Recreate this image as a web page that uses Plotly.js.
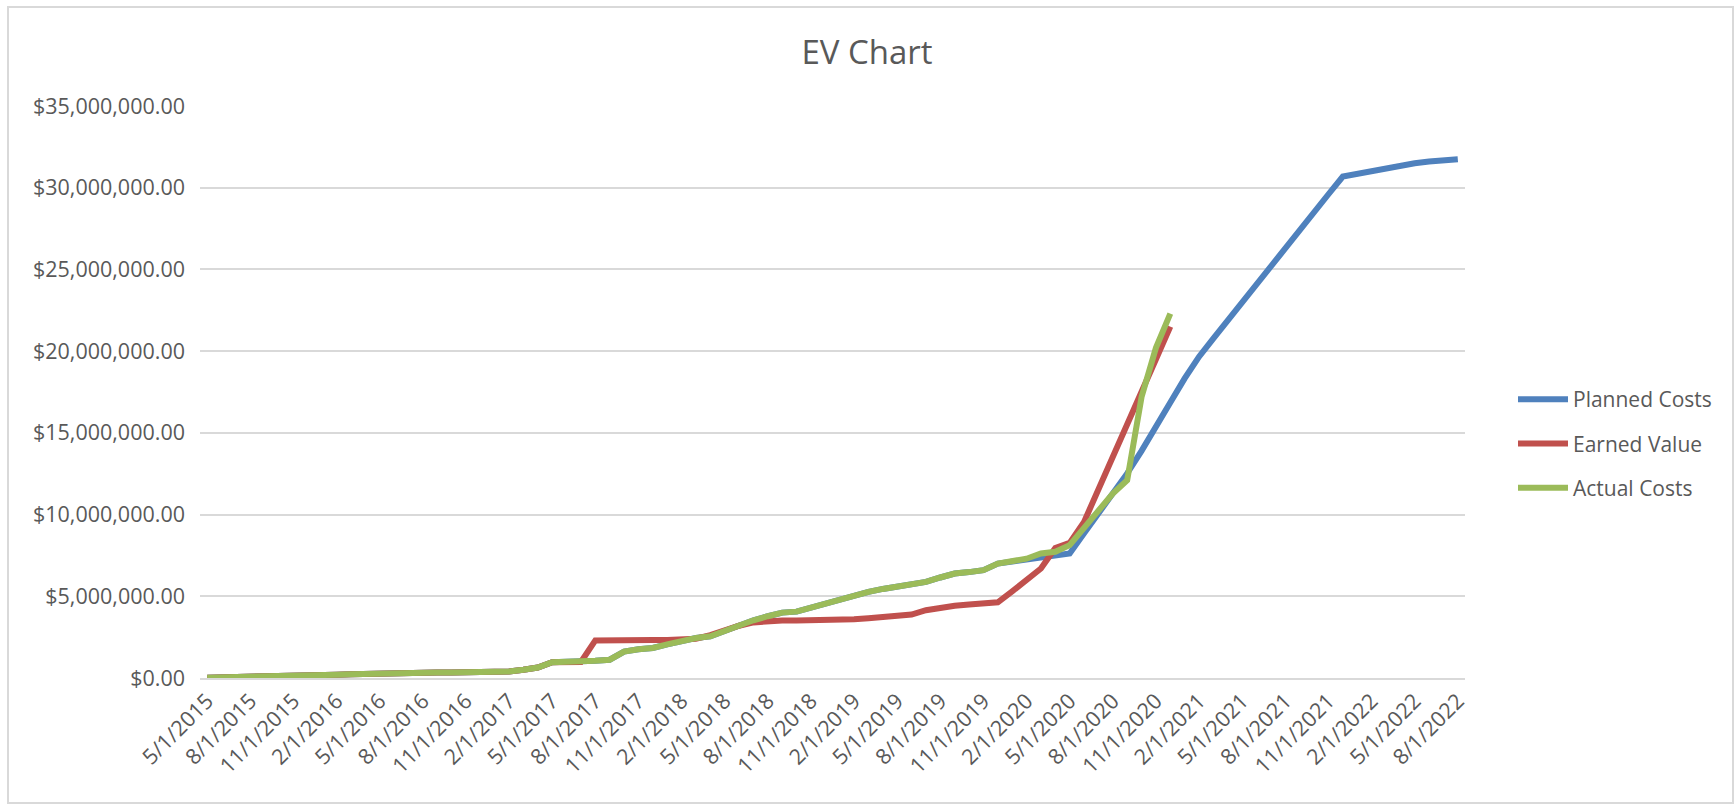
<!DOCTYPE html>
<html>
<head>
<meta charset="utf-8">
<script src="https://cdn.plot.ly/plotly-3.0.1.min.js"></script>
<style>
  html, body { margin: 0; padding: 0; background: #ffffff; }
  #wrap { position: relative; width: 1734px; height: 804px; }
  #chart { width: 1734px; height: 804px; }
  #frame { position: absolute; left: 7px; top: 6px; width: 1723px; height: 794px;
           border: 2px solid #D9D9D9; pointer-events: none; }
</style>
</head>
<body>
<div id="wrap">
  <div id="chart"></div>
  <div id="frame"></div>
</div>
<script>
// Months (categories)
const months = [
  "5/1/2015","6/1/2015","7/1/2015","8/1/2015","9/1/2015","10/1/2015","11/1/2015","12/1/2015",
  "1/1/2016","2/1/2016","3/1/2016","4/1/2016","5/1/2016","6/1/2016","7/1/2016","8/1/2016","9/1/2016","10/1/2016","11/1/2016","12/1/2016",
  "1/1/2017","2/1/2017","3/1/2017","4/1/2017","5/1/2017","6/1/2017","7/1/2017","8/1/2017","9/1/2017","10/1/2017","11/1/2017","12/1/2017",
  "1/1/2018","2/1/2018","3/1/2018","4/1/2018","5/1/2018","6/1/2018","7/1/2018","8/1/2018","9/1/2018","10/1/2018","11/1/2018","12/1/2018",
  "1/1/2019","2/1/2019","3/1/2019","4/1/2019","5/1/2019","6/1/2019","7/1/2019","8/1/2019","9/1/2019","10/1/2019","11/1/2019","12/1/2019",
  "1/1/2020","2/1/2020","3/1/2020","4/1/2020","5/1/2020","6/1/2020","7/1/2020","8/1/2020","9/1/2020","10/1/2020","11/1/2020","12/1/2020",
  "1/1/2021","2/1/2021","3/1/2021","4/1/2021","5/1/2021","6/1/2021","7/1/2021","8/1/2021","9/1/2021","10/1/2021","11/1/2021","12/1/2021",
  "1/1/2022","2/1/2022","3/1/2022","4/1/2022","5/1/2022","6/1/2022","7/1/2022","8/1/2022"
];

// Tick labels shown on the axis (every third month)
const tickLabels = [
  "5/1/2015","8/1/2015","11/1/2015","2/1/2016","5/1/2016","8/1/2016","11/1/2016",
  "2/1/2017","5/1/2017","8/1/2017","11/1/2017","2/1/2018","5/1/2018","8/1/2018","11/1/2018",
  "2/1/2019","5/1/2019","8/1/2019","11/1/2019","2/1/2020","5/1/2020","8/1/2020","11/1/2020",
  "2/1/2021","5/1/2021","8/1/2021","11/1/2021","2/1/2022","5/1/2022","8/1/2022"
];

// Planned Costs (88 months)
const plannedCosts = [
  0.02e6,0.03e6,0.05e6,0.06e6,0.08e6,0.10e6,0.12e6,0.14e6,0.17e6,0.20e6,
  0.23e6,0.26e6,0.30e6,0.32e6,0.32e6,0.33e6,0.33e6,0.33e6,0.33e6,0.33e6,
  0.34e6,0.40e6,0.50e6,0.64e6,0.97e6,0.97e6,0.98e6,1.06e6,1.12e6,1.62e6,
  1.76e6,1.84e6,2.06e6,2.27e6,2.45e6,2.55e6,2.88e6,3.23e6,3.53e6,3.78e6,
  4.00e6,4.06e6,4.32e6,4.53e6,4.80e6,5.05e6,5.27e6,5.45e6,5.60e6,5.72e6,
  5.88e6,6.15e6,6.39e6,6.48e6,6.60e6,7.00e6,7.12e6,7.25e6,7.45e6,7.55e6,
  7.62e6,8.85e6,10.07e6,11.30e6,12.52e6,13.90e6,15.30e6,16.86e6,18.33e6,19.66e6,
  20.78e6,21.90e6,23.00e6,24.10e6,25.20e6,26.30e6,27.40e6,28.50e6,29.60e6,30.68e6,
  30.85e6,31.00e6,31.15e6,31.32e6,31.50e6,31.60e6,31.67e6,31.74e6
];

// Earned Value (68 months)
const earnedValue = [
  0.02e6,0.03e6,0.05e6,0.06e6,0.08e6,0.10e6,0.12e6,0.14e6,0.17e6,0.20e6,
  0.23e6,0.26e6,0.30e6,0.32e6,0.32e6,0.33e6,0.33e6,0.33e6,0.33e6,0.33e6,
  0.34e6,0.40e6,0.50e6,0.64e6,0.97e6,0.97e6,0.98e6,2.30e6,2.33e6,2.33e6,
  2.33e6,2.33e6,2.33e6,2.34e6,2.40e6,2.62e6,2.92e6,3.20e6,3.40e6,3.50e6,
  3.52e6,3.52e6,3.52e6,3.52e6,3.55e6,3.60e6,3.66e6,3.73e6,3.80e6,3.88e6,
  4.15e6,4.32e6,4.42e6,4.50e6,4.56e6,4.63e6,5.30e6,6.00e6,6.70e6,7.95e6,
  8.27e6,9.55e6,11.50e6,13.50e6,15.50e6,17.50e6,19.50e6,21.50e6
];

// Actual Costs (68 months)
const actualCosts = [
  0.02e6,0.03e6,0.05e6,0.06e6,0.08e6,0.10e6,0.12e6,0.14e6,0.17e6,0.20e6,
  0.23e6,0.26e6,0.30e6,0.32e6,0.32e6,0.33e6,0.33e6,0.33e6,0.33e6,0.33e6,
  0.34e6,0.40e6,0.50e6,0.64e6,0.97e6,0.97e6,0.98e6,1.06e6,1.12e6,1.62e6,
  1.76e6,1.84e6,2.06e6,2.27e6,2.45e6,2.55e6,2.88e6,3.23e6,3.53e6,3.78e6,
  4.00e6,4.06e6,4.32e6,4.53e6,4.80e6,5.05e6,5.27e6,5.45e6,5.60e6,5.72e6,
  5.88e6,6.15e6,6.39e6,6.48e6,6.60e6,7.00e6,7.15e6,7.30e6,7.62e6,7.72e6,
  8.13e6,9.15e6,10.15e6,11.29e6,12.10e6,17.20e6,20.20e6,22.30e6
];

const seriesNames = ["Planned Costs", "Earned Value", "Actual Costs"];
const seriesColors = ["#4F81BD", "#C0504D", "#9BBB59"];

const FONT = "'Open Sans', 'Noto Sans', sans-serif";
const TEXT = "#595959";
const GRID = "#D9D9D9";

const data = [plannedCosts, earnedValue, actualCosts].map((vals, k) => ({
  type: "scatter",
  mode: "lines",
  name: seriesNames[k],
  legendgroup: "g" + k,
  x: months.slice(0, vals.length),
  y: vals,
  line: { color: seriesColors[k], width: 6 },
  hoverinfo: "x+y+name"
}));

const layout = {
  width: 1734,
  height: 804,
  paper_bgcolor: "#ffffff",
  plot_bgcolor: "#ffffff",
  margin: { l: 200, r: 269, t: 106, b: 126, pad: 0 },
  title: {
    text: "EV Chart",
    font: { family: FONT, size: 33, color: TEXT },
    xref: "container", x: 0.5, xanchor: "center",
    yref: "container", y: 1 - 52 / 804, yanchor: "middle"
  },
  xaxis: {
    type: "category",
    categoryorder: "array",
    categoryarray: months,
    range: [-0.5, months.length - 0.5],
    tickmode: "array",
    tickvals: tickLabels,
    ticktext: tickLabels,
    tickangle: -45,
    tickfont: { family: FONT, size: 21.5, color: TEXT },
    showgrid: false,
    showline: true,
    linecolor: GRID,
    linewidth: 2,
    ticks: "",
    zeroline: false,
    fixedrange: true
  },
  yaxis: {
    range: [0, 35e6],
    tickmode: "linear",
    tick0: 0,
    dtick: 5e6,
    tickformat: "$,.2f",
    tickfont: { family: FONT, size: 21.5, color: TEXT },
    showgrid: true,
    gridcolor: GRID,
    gridwidth: 2,
    zeroline: false,
    showline: false,
    ticks: "",
    ticklabelstandoff: 14,
    fixedrange: true
  },
  showlegend: true,
  legend: {
    xref: "container", yref: "container",
    x: 1513 / 1734, xanchor: "left",
    y: 1 - 379 / 804, yanchor: "top",
    font: { family: FONT, size: 21, color: TEXT },
    bgcolor: "rgba(0,0,0,0)",
    borderwidth: 0,
    traceorder: "grouped",
    tracegroupgap: 14,
    itemwidth: 50
  }
};

Plotly.newPlot("chart", data, layout, { displayModeBar: false, staticPlot: false });
</script>
</body>
</html>
